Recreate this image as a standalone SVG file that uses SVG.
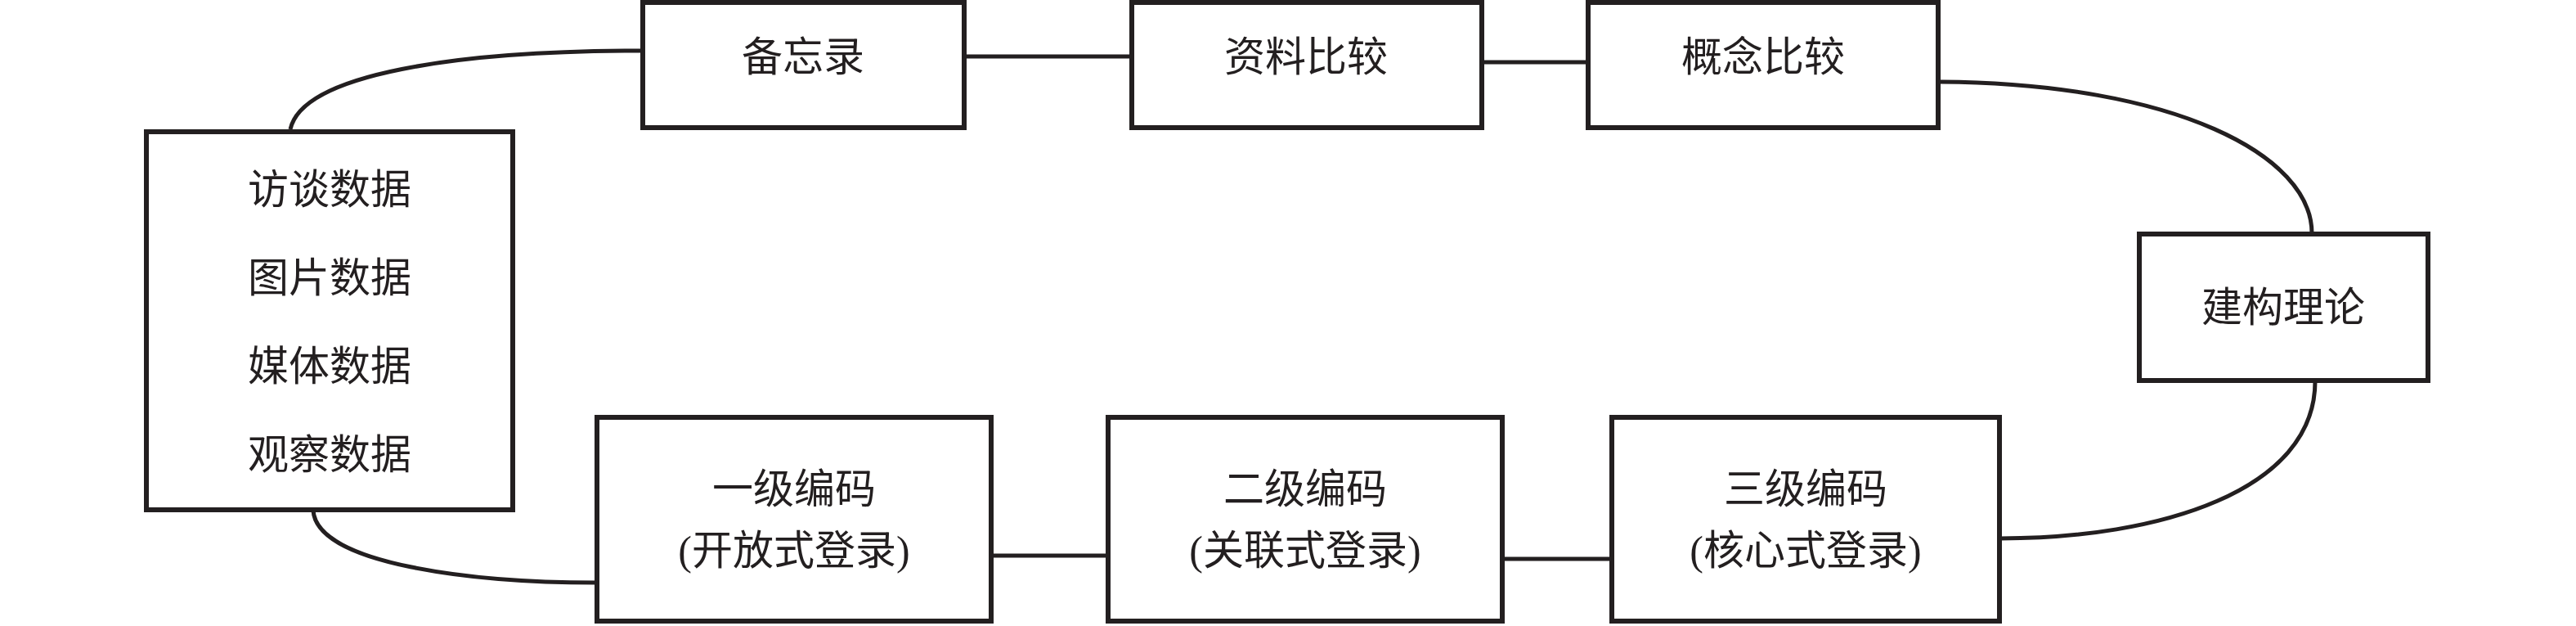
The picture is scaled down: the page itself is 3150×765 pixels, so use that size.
<svg xmlns="http://www.w3.org/2000/svg" width="3150" height="765" viewBox="0 0 3150 765">
<style>
.box{fill:#fff;stroke:#231f20;stroke-width:6}
.t{font-family:"Liberation Serif","Noto Sans CJK SC",serif;font-size:50px;fill:#231f20;text-anchor:middle;dominant-baseline:central}
.c{fill:none;stroke:#231f20;stroke-width:5}
</style>
<rect width="3150" height="765" fill="#fff"/>
<g id="connectors">
<path class="c" d="M355,158 C370,90 560,62 786,62"/>
<path class="c" d="M1181,69 L1383,69"/>
<path class="c" d="M1814,76 L1941,76"/>
<path class="c" d="M2373,100 C2660,102 2827,190 2827,285"/>
<path class="c" d="M2831,466 C2831,600 2640,658 2446,658"/>
<path class="c" d="M1215,679 L1354,679"/>
<path class="c" d="M1840,683 L1970,683"/>
<path class="c" d="M383,624 C388,690 580,712 729,712"/>
</g>
<g id="data">
<rect class="box" x="179" y="161" width="448" height="462"/>
<text class="t" x="403" y="232">访谈数据</text>
<text class="t" x="403" y="340">图片数据</text>
<text class="t" x="403" y="448">媒体数据</text>
<text class="t" x="403" y="556">观察数据</text>
</g>
<g id="memo">
<rect class="box" x="786" y="3" width="393" height="153"/>
<text class="t" x="982" y="70">备忘录</text>
</g>
<g id="compare-data">
<rect class="box" x="1384" y="3" width="428" height="153"/>
<text class="t" x="1597" y="70">资料比较</text>
</g>
<g id="compare-concept">
<rect class="box" x="1942" y="3" width="428" height="153"/>
<text class="t" x="2156" y="70">概念比较</text>
</g>
<g id="theory">
<rect class="box" x="2616" y="286" width="353" height="179"/>
<text class="t" x="2792" y="376">建构理论</text>
</g>
<g id="code3">
<rect class="box" x="1971" y="510" width="474" height="249"/>
<text class="t" x="2208" y="598">三级编码</text>
<text class="t" x="2208" y="673">(核心式登录)</text>
</g>
<g id="code2">
<rect class="box" x="1355" y="510" width="482" height="249"/>
<text class="t" x="1596" y="598">二级编码</text>
<text class="t" x="1596" y="673">(关联式登录)</text>
</g>
<g id="code1">
<rect class="box" x="730" y="510" width="482" height="249"/>
<text class="t" x="971" y="598">一级编码</text>
<text class="t" x="971" y="673">(开放式登录)</text>
</g>
</svg>
